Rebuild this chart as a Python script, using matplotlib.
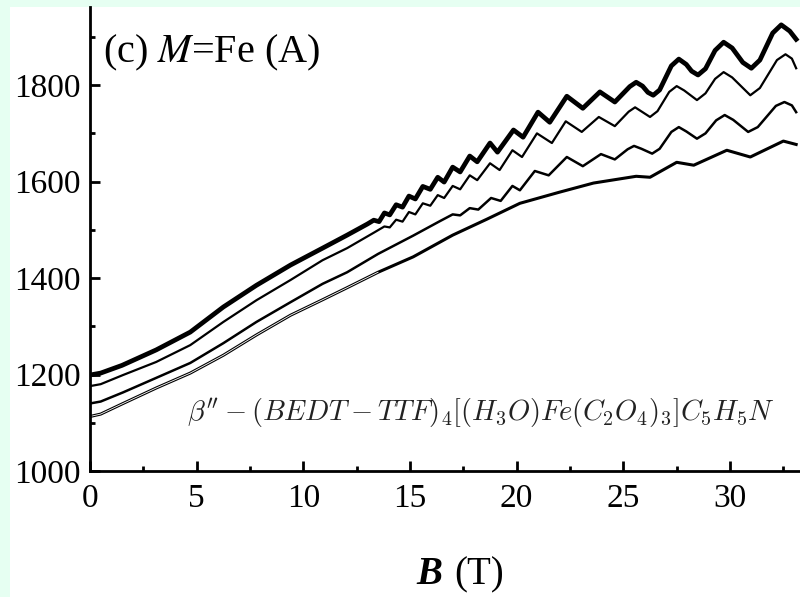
import matplotlib
matplotlib.use("Agg")
import matplotlib.pyplot as plt
from matplotlib.patches import Rectangle
from matplotlib.ticker import MultipleLocator

plt.rcParams['font.family'] = ['Liberation Serif', 'DejaVu Serif']

# field values (T) and amplitude readings for the four curves, top to bottom
b_top = [0, 0.5, 1.5, 3.1, 4.7, 6.25, 7.8, 9.4, 10.9, 12.05, 13.0, 13.3, 13.55, 13.8, 14.05,
         14.35, 14.65, 14.95, 15.25, 15.6, 15.95, 16.3, 16.6, 17.0, 17.35, 17.8, 18.15, 18.75,
         19.1, 19.85, 20.3, 21.0, 21.55, 22.35, 23.1, 23.9, 24.6, 25.3, 25.6, 25.9, 26.15, 26.4,
         26.7, 27.25, 27.6, 27.95, 28.2, 28.5, 28.85, 29.3, 29.7, 30.1, 30.6, 31.0, 31.4,
         32.0, 32.4, 32.8, 33.1]
v_top = [1199, 1203, 1219, 1251, 1288, 1340, 1385, 1427, 1462, 1489, 1512, 1520, 1517, 1535, 1531,
         1552, 1547, 1570, 1564, 1590, 1584, 1609, 1599, 1630, 1620, 1653, 1641, 1680,
         1661, 1707, 1692, 1744, 1723, 1777, 1752, 1786, 1765, 1797, 1806, 1798, 1785, 1779,
         1790, 1840, 1854, 1843, 1829, 1821, 1834, 1872, 1889, 1877, 1847, 1835, 1852,
         1908, 1925, 1912, 1895]

b_2 = [0, 0.5, 1.55, 3.1, 4.7, 6.25, 7.8, 9.4, 10.9, 12.05, 13.3, 13.8, 14.05, 14.35, 14.65,
       14.95, 15.25, 15.6, 15.95, 16.3, 16.6, 17.0, 17.35, 17.8, 18.15, 18.75, 19.2, 19.8, 20.25,
       20.95, 21.65, 22.3, 23.05, 23.85, 24.6, 25.25, 25.55, 25.9, 26.25, 26.6, 27.15, 27.5,
       27.85, 28.45, 28.85, 29.3, 29.7, 30.1, 30.95, 31.4, 32.2, 32.6, 32.9, 33.1]
v_2 = [1176, 1180, 1199, 1226, 1261, 1309, 1354, 1396, 1437, 1462, 1494, 1507, 1505, 1521, 1517,
       1537, 1532, 1555, 1550, 1572, 1566, 1591, 1584, 1613, 1603, 1638, 1624, 1665, 1651,
       1700, 1680, 1725, 1703, 1734, 1715, 1745, 1754, 1744, 1734, 1746, 1786, 1798,
       1789, 1769, 1783, 1813, 1827, 1816, 1779, 1794, 1852, 1864, 1855, 1835]

b_3 = [0, 0.5, 1.55, 3.1, 4.7, 6.25, 7.8, 9.4, 10.9, 12.05, 13.5, 15.15, 16.4, 17.0, 17.35,
       17.8, 18.2, 18.8, 19.25, 19.8, 20.15, 20.85, 21.5, 22.35, 23.1, 23.95, 24.6, 25.2, 25.5,
       25.85, 26.35, 26.7, 27.25, 27.6, 27.95, 28.45, 28.85, 29.35, 29.75, 30.15, 30.85, 31.3,
       32.15, 32.55, 32.9, 33.1]
v_3 = [1140, 1144, 1163, 1193, 1224, 1265, 1309, 1350, 1388, 1412, 1450, 1488, 1518, 1532, 1530,
       1545, 1542, 1566, 1560, 1591, 1582, 1622, 1613, 1651, 1632, 1657, 1646, 1667, 1674,
       1668, 1658, 1668, 1703, 1713, 1704, 1689, 1700, 1727, 1738, 1728, 1703, 1713,
       1757, 1765, 1758, 1744]

b_4 = [0, 0.5, 1.55, 3.1, 4.7, 6.25, 7.8, 9.4, 10.9, 12.05, 13.5, 15.15, 17.0, 18.6, 20.15,
       22.0, 23.6, 25.6, 26.25, 27.5, 28.3, 29.85, 30.95, 32.5, 33.1]
v_4 = [1113, 1118, 1140, 1172, 1203, 1240, 1282, 1323, 1355, 1380, 1412, 1444, 1489, 1522, 1555,
       1578, 1597, 1611, 1609, 1640, 1634, 1665, 1651, 1684, 1677]

x_ticks = [0, 5, 10, 15, 20, 25, 30]
y_ticks = [1000, 1200, 1400, 1600, 1800]

fig = plt.figure(figsize=(8, 5.97), dpi=100, facecolor='#e6fff2')
# white panel behind the plot
fig.patches.append(Rectangle((10 / 800, 0), 1, 1 - 7 / 597, transform=fig.transFigure,
                             facecolor='white', edgecolor='none', zorder=-5))

ax = fig.add_axes([90 / 800, 126 / 597, 710 / 800, 464 / 597])
ax.set_facecolor('none')
ax.set_zorder(2)

ax.plot(b_top, v_top, color='black', lw=3.4, solid_joinstyle='round')
ax.plot(b_2, v_2, color='black', lw=1.6, solid_joinstyle='round')
ax.plot(b_3, v_3, color='black', lw=1.8, solid_joinstyle='round')
ax.plot(b_4, v_4, color='black', lw=2.2, solid_joinstyle='round')
# hollow look of the low field part of the bottom curve
n_low = 11
ax.plot(b_4[:n_low], v_4[:n_low], color='white', lw=0.6)

ax.set_xlim(0, 33.28)
ax.set_ylim(1000, 1962)
ax.set_xticks(x_ticks)
ax.set_yticks(y_ticks)
ax.xaxis.set_minor_locator(MultipleLocator(2.5))
ax.yaxis.set_minor_locator(MultipleLocator(100))

for s in ['top', 'right']:
    ax.spines[s].set_visible(False)
for s in ['left', 'bottom']:
    ax.spines[s].set_linewidth(2)

ax.tick_params(which='major', direction='in', length=7, width=2, labelsize=24)
ax.tick_params(which='minor', direction='in', length=3.5, width=2)
ax.tick_params(axis='x', pad=9)
ax.tick_params(axis='y', pad=7)

ax.text(0.018, 0.881, r'(c) $M$=Fe (A)', transform=ax.transAxes, fontsize=29,
        math_fontfamily='stix', ha='left', va='baseline')

ax.text(0.965, 0.108,
        r"$\beta'' - (BEDT - TTF)_4[(H_3O)Fe(C_2O_4)_3]C_5H_5N$",
        transform=ax.transAxes, fontsize=20.5, math_fontfamily='cm', color='#222222',
        ha='right', va='baseline')

# axis label: bold italic B followed by (T)
fig.text(442 / 800, 1 - 584 / 597, 'B', fontsize=28, fontweight='bold', fontstyle='italic',
         ha='right', va='baseline')
fig.text(454 / 800, 1 - 584 / 597, '(T)', fontsize=28, ha='left', va='baseline')

fig.savefig('out.png', dpi=100, facecolor=fig.get_facecolor())
